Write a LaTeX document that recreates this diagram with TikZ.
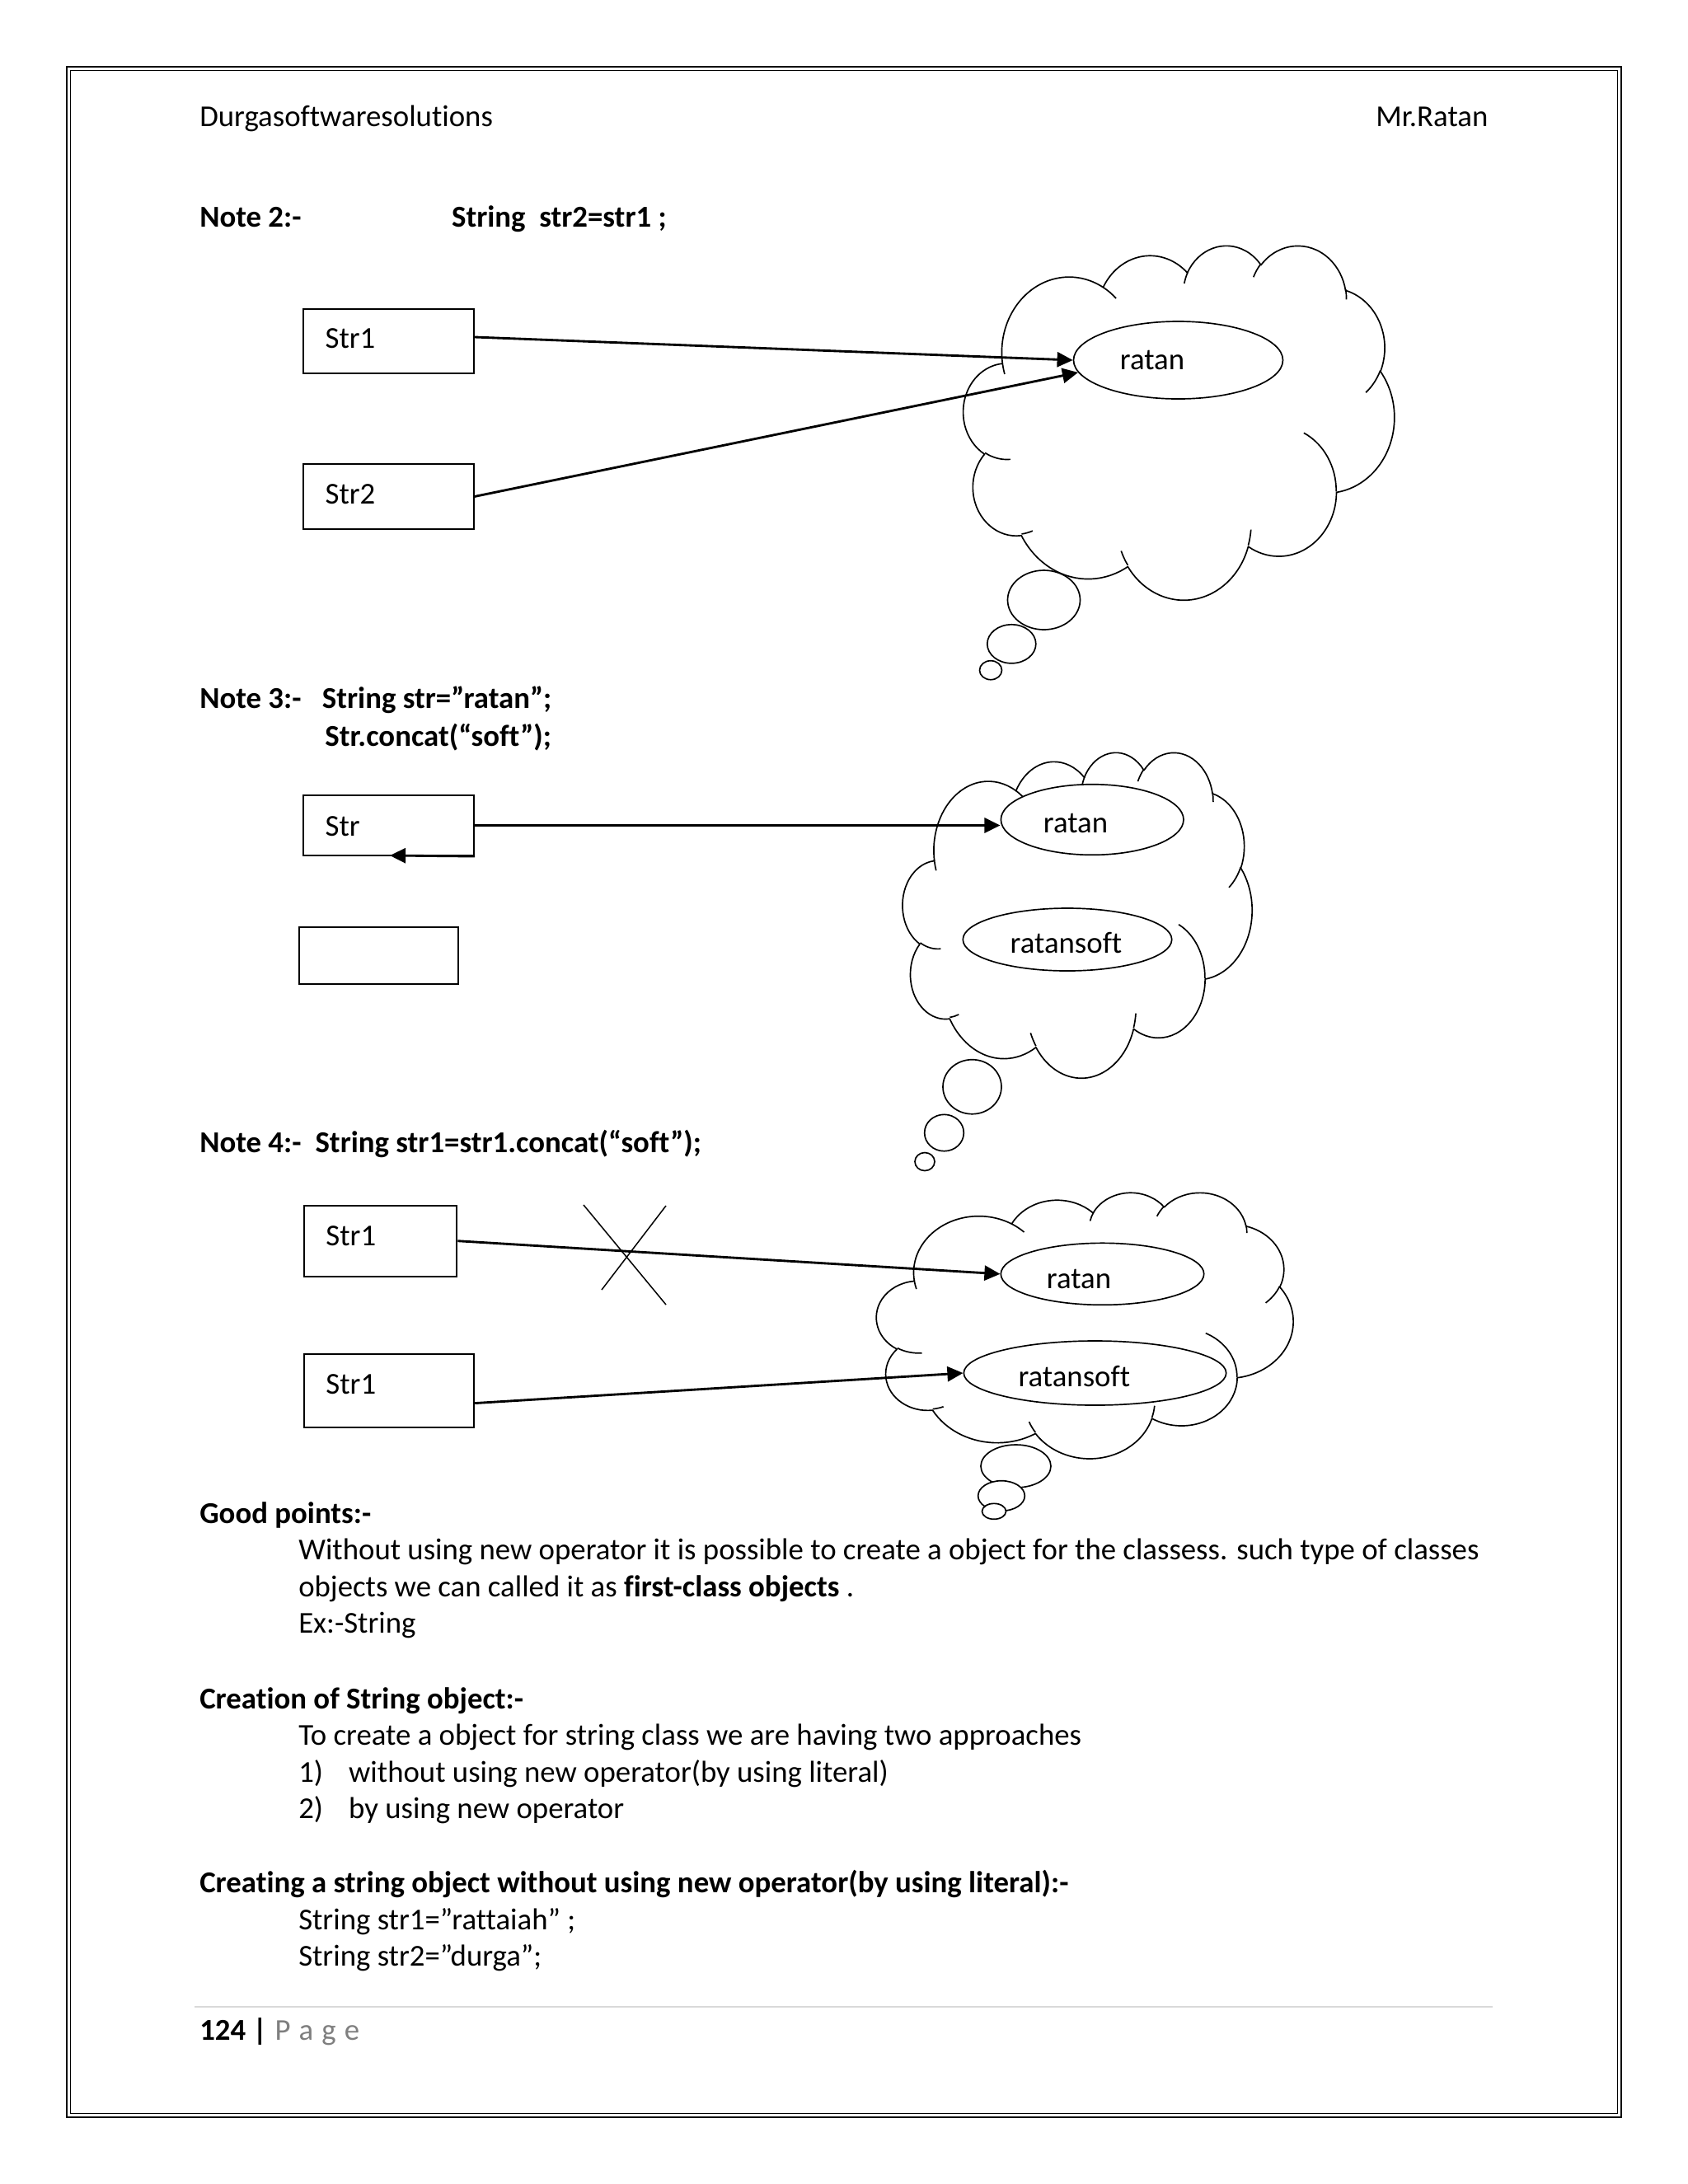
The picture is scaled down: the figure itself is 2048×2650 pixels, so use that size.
\documentclass[tikz,border=0pt]{standalone}
\usepackage{fontspec}
\setmainfont{Carlito}[Ligatures={TeX,NoCommon}]
\usetikzlibrary{arrows.meta,shapes.geometric}
\newdimen\pxu \pxu=0.29883pt
\definecolor{footgray}{RGB}{217,217,217}
\definecolor{pagegray}{RGB}{127,127,127}
\tikzset{
  declare function={pa(\ang,\rw,\rh)=atan2(\rw*sin(\ang),\rh*cos(\ang));},
  oarc/.style n args={4}{insert path={arc[x radius=#1,y radius=#2,start angle={pa(#3,#1,#2)},delta angle={mod(pa(#3+#4,#1,#2)-pa(#3,#1,#2)+720,360)}]}},
  cloudline/.style={line width=0.5pt,line join=round},
  box/.style={draw,line width=0.6pt,inner sep=0pt},
  oval/.style={ellipse,draw,fill=white,line width=0.5pt,inner sep=0pt},
  bub/.style={ellipse,draw,fill=white,line width=0.5pt,inner sep=0pt},
  arr/.style={line width=0.85pt,-{Triangle[length=5.7pt,width=5.4pt]}},
  thinline/.style={line width=0.45pt},
  txt/.style={anchor=base west,inner sep=0pt,font=\fontsize{11pt}{13.4pt}\selectfont},
  btxt/.style={txt,font=\fontsize{11pt}{13.4pt}\selectfont\bfseries},
}
\newcommand\thoughtcloud[4]{%
 \begin{scope}[shift={(#1,#2)},xscale=#3/432,yscale=#4/432]
 \draw[cloudline,fill=white] (39,143.7)
   [oarc={67.53}{91.90}{-190.48748}{123.78053}]
   [oarc={53.33}{72.67}{-144.10238}{89.94523}]
   [oarc={43.65}{59.45}{-145.80792}{99.72302}]
   [oarc={48.57}{65.95}{-130.98607}{117.24173}]
   [oarc={53.33}{72.73}{-78.70888}{109.02692}]
   [oarc={67.75}{92.20}{-46.26725}{130.269}]
   [oarc={57.85}{78.67}{0.62502}{114.03333}]
   [oarc={67.52}{92.15}{22.4516}{115.17255}]
   [oarc={77.20}{105.43}{66.24263}{75.71102}]
   [oarc={43.60}{59.18}{-274.94208}{146.73557}]
   [oarc={43.45}{59.45}{-246.8285}{152.51885}] -- cycle;
 \draw[cloudline] (46.93,261.77) [oarc={43.45}{59.45}{86.742}{26.4295}]
   (69.28,348.99) [oarc={43.60}{59.18}{73.61047}{11.44747}]
   (164.78,390.90) [oarc={67.52}{92.15}{137.62415}{14.0811}]
   (288.27,347.51) [oarc={67.52}{92.15}{6.45327}{15.99835}]
   (341.29,229.54) [oarc={57.85}{78.67}{-70.29235}{70.91737}]
   (417.98,153.54) [oarc={53.33}{72.73}{30.31803}{27.7515}]
   (383.24,54.26) [oarc={48.57}{65.95}{-13.74433}{14.8589}]
   (290.78,39.52) [oarc={48.57}{65.95}{-149.18145}{18.19537}]
   (221.41,47.20) [oarc={43.65}{59.45}{-163.49427}{17.68635}]
   (140.00,51.92) [oarc={67.53}{91.90}{-66.70695}{12.31935}]
   (41.27,157.89) [oarc={67.53}{91.90}{157.65435}{11.85817}];
 \end{scope}}
\begin{document}
\begin{tikzpicture}[x=0.29883pt,y=-0.29883pt]
\useasboundingbox (0,0) rectangle (2048,2650);
\fill[white] (0,0) rectangle (2048,2650);
% page frame
\draw[line width=0.55pt] (81,81) rectangle (1967,2569);
\draw[line width=0.35pt] (85.5,85.5) rectangle (1962.5,2564.5);
% header
\node[txt] (hdl) at (241.6,153) {Durgasoftwaresolutions};
\node[txt,anchor=base east] (hdr) at (1806,153) {Mr.Ratan};
% ---------------- Note 2
\node[btxt] (n2) at (241.6,275) {Note 2:-};
\node[btxt] (n2c) at (547.5,275) {String\ \ str2=str1 ;};
\thoughtcloud{1169}{296.9}{522.6}{429.8}
\node[bub,minimum width={88*\pxu},minimum height={72*\pxu}] (c1b1) at (1266.5,728) {};
\node[bub,minimum width={59*\pxu},minimum height={47*\pxu}] (c1b2) at (1227.3,781.3) {};
\node[bub,minimum width={27*\pxu},minimum height={23*\pxu}] (c1b3) at (1202,813.2) {};
\node[oval,minimum width={254*\pxu},minimum height={94*\pxu}] (e1) at (1429.5,437) {};
\node[txt,anchor=base] (e1t) at (1398,448) {ratan};
\node[box,minimum width={206.5*\pxu},minimum height={78*\pxu}] (s1) at (471.25,414) {};
\node[txt] (s1t) at (394,422) {Str1};
\node[box,minimum width={206.5*\pxu},minimum height={79*\pxu}] (s2) at (471.25,602.5) {};
\node[txt] (s2t) at (394,611) {Str2};
\draw[arr] ([yshift=1.5pt]s1.east) -- (e1.west);
\draw[arr] (s2.east) -- (e1.187);
% ---------------- Note 3
\node[btxt] (n3) at (241.6,859) {Note 3:-};
\node[btxt] (n3a) at (390.3,859) {String str=”ratan”;};
\node[btxt] (n3b) at (393.7,905) {Str.concat(“soft”);};
\thoughtcloud{1095.3}{912}{423.7}{394.8}
\node[bub,minimum width={71*\pxu},minimum height={66*\pxu}] (c2b1) at (1179.5,1318.7) {};
\node[bub,minimum width={47.6*\pxu},minimum height={44.4*\pxu}] (c2b2) at (1145.5,1374.5) {};
\node[bub,minimum width={24*\pxu},minimum height={22*\pxu}] (c2b3) at (1122,1409.5) {};
\node[oval,minimum width={221.6*\pxu},minimum height={85.6*\pxu}] (e2a) at (1325.2,994.5) {};
\node[txt,anchor=base] (e2at) at (1305,1010) {ratan};
\node[oval,minimum width={253.4*\pxu},minimum height={76*\pxu}] (e2b) at (1295,1140) {};
\node[txt,anchor=base] (e2bt) at (1293.5,1156) {ratansoft};
\node[box,minimum width={207*\pxu},minimum height={73*\pxu}] (s3) at (471.5,1001.5) {};
\node[txt] (s3t) at (394,1014) {Str};
\node[box,minimum width={192.3*\pxu},minimum height={69*\pxu}] (s3e) at (459.5,1159.5) {};
\coordinate (bk) at (473,1038);
\draw[arr] (s3.east) -- (s3.east -| e2a.west);
\draw[arr] (s3.south east) -- (bk);
% ---------------- Note 4
\node[btxt] (n4) at (241.6,1398) {Note 4:-};
\node[btxt] (n4a) at (381.9,1398) {String str1=str1.concat(“soft”);};
\thoughtcloud{1063.6}{1446.2}{505.3}{322.6}
\node[bub,minimum width={85*\pxu},minimum height={52*\pxu}] (c3b1) at (1232.5,1779) {};
\node[bub,minimum width={56.6*\pxu},minimum height={36.6*\pxu}] (c3b2) at (1215,1815) {};
\node[bub,minimum width={29*\pxu},minimum height={19*\pxu}] (c3b3) at (1206,1833.8) {};
\node[oval,minimum width={246.4*\pxu},minimum height={75*\pxu}] (e3a) at (1337.5,1545.8) {};
\node[txt,anchor=base] (e3at) at (1309,1563) {ratan};
\node[oval,minimum width={318.4*\pxu},minimum height={78*\pxu}] (e3b) at (1328.5,1666) {};
\node[txt,anchor=base] (e3bt) at (1303.3,1682) {ratansoft};
\node[box,minimum width={185.7*\pxu},minimum height={86*\pxu}] (s4a) at (461.5,1505.7) {};
\node[txt] (s4at) at (394.8,1511.5) {Str1};
\node[box,minimum width={206.6*\pxu},minimum height={89*\pxu}] (s4b) at (471.9,1687.5) {};
\node[txt] (s4bt) at (394.8,1691.6) {Str1};
\draw[arr] (s4a.east) -- (e3a.west);
\draw[arr] ([yshift=-4.5pt]s4b.east) -- (e3b.west);
\coordinate (xa1) at (708,1462);
\coordinate (xa2) at (808,1583);
\coordinate (xb1) at (808,1463);
\coordinate (xb2) at (730,1565);
\draw[thinline] (xa1) -- (xa2) (xb1) -- (xb2);
% ---------------- text block
\node[btxt] (gp) at (241.6,1848) {Good points:-};
\node[txt] (gp1) at (361.6,1892) {Without using new operator it is possible to create a object for the classess. such type of classes};
\node[txt] (gp2) at (361.6,1937) {objects we can called it as \textbf{first-class objects} .};
\node[txt] (gp3) at (361.6,1981) {Ex:-String};
\node[btxt] (cs) at (241.6,2073) {Creation of String object:-};
\node[txt] (cs1) at (361.6,2117) {To create a object for string class we are having two approaches};
\node[txt] (cs2n) at (361.6,2162) {1)};
\node[txt] (cs2) at (422.5,2162) {without using new operator(by using literal)};
\node[txt] (cs3n) at (361.6,2206) {2)};
\node[txt] (cs3) at (422.5,2206) {by using new operator};
\node[btxt] (cw) at (241.6,2296) {Creating a string object without using new operator(by using literal):-};
\node[txt] (cw1) at (361.6,2341) {String str1=”rattaiah” ;};
\node[txt] (cw2) at (361.6,2385) {String str2=”durga”;};
% footer
\draw[line width=0.45pt,footgray] (236,2435) -- (1811,2435);
\node[btxt] (pgn) at (241.6,2475) {124 |};
\node[txt,text=pagegray] (pgw) at (333,2475) {P\hspace{3pt}a\hspace{3pt}g\hspace{3pt}e};
\end{tikzpicture}
\end{document}
